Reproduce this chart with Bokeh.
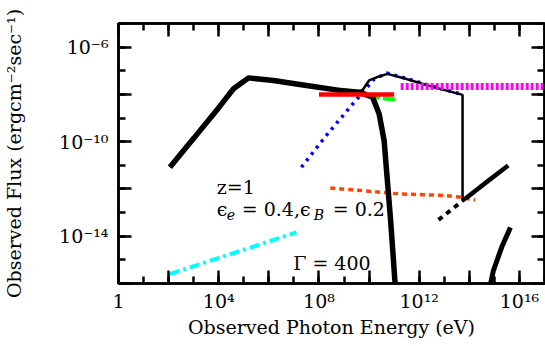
import numpy as np
from bokeh.plotting import figure
from bokeh.models import Range1d, FixedTicker, LogAxis, CustomJSTickFormatter, Label
from bokeh.embed import file_html
from bokeh.resources import INLINE

# ---- data (log10 of energy in eV, log10 of flux) ----
sync_logE = [2.05, 3.0, 4.0, 4.59, 5.19, 6.18, 7.50, 8.82, 9.61, 10.14, 10.40, 10.60, 10.73, 10.86, 11.03, 11.06]
sync_logF = [-11.08, -9.86, -8.56, -7.76, -7.30, -7.41, -7.62, -7.83, -7.91, -8.12, -8.82, -9.95, -11.65, -13.34, -15.89, -16.2]

ssc_logE = [9.58, 9.74, 10.0, 10.40, 10.73, 11.46, 12.51, 13.73, 13.73]
ssc_logF = [-7.88, -7.81, -7.41, -7.24, -7.13, -7.34, -7.67, -8.02, -12.45]

ssc_model_logE = [7.30, 8.29, 9.35, 9.80, 10.20, 10.73, 11.46, 12.51, 13.60]
ssc_model_logF = [-11.08, -9.74, -8.40, -7.85, -7.35, -7.10, -7.32, -7.65, -7.97]

green_logE = [8.80, 9.60, 10.10, 10.60, 11.06]
green_logF = [-7.78, -7.92, -8.10, -8.17, -8.22]

red_logE = [8.0, 11.0]
red_logF = [-8.0, -8.0]

magenta_logE = [11.26, 17.0]
magenta_logF = [-7.67, -7.67]

cyan_logE = [2.05, 7.10]
cyan_logF = [-15.60, -13.84]

orange_logE = [8.45, 9.74, 11.19, 12.12, 13.04, 13.70, 14.23]
orange_logF = [-11.96, -12.07, -12.21, -12.24, -12.28, -12.36, -12.47]

ic_dash_logE = [12.77, 13.85]
ic_dash_logF = [-13.31, -12.40]
ic_solid_logE = [13.85, 14.7, 15.55]
ic_solid_logF = [-12.40, -11.70, -11.01]

hi_logE = [14.85, 14.96, 15.29, 15.64]
hi_logF = [-16.0, -15.46, -14.47, -13.63]

x_major = [0, 2, 4, 6, 8, 10, 12, 14, 16]
x_labelled = [0, 4, 8, 12, 16]
y_major = [-16, -14, -12, -10, -8, -6]
y_labelled = [-14, -10, -6]

FONT = "DejaVu Serif"


def p10(a):
    return [10.0 ** v for v in a]


p = figure(width=545, height=346, x_axis_type="log", y_axis_type="log",
           x_range=Range1d(1, 1e17), y_range=Range1d(1e-16, 1e-5),
           output_backend="svg", toolbar_location=None,
           min_border_left=114, min_border_right=1, min_border_top=23, min_border_bottom=63)
p.xgrid.visible = False
p.ygrid.visible = False
p.outline_line_color = "black"
p.outline_line_width = 2.5
p.background_fill_color = "white"
p.border_fill_color = "white"

JS = """
const e = Math.round(Math.log10(tick));
if (!keep.includes(e)) return "";
if (e == 0) return "1";
const s = {"-":"\u207b","0":"\u2070","1":"\u00b9","2":"\u00b2","3":"\u00b3","4":"\u2074","5":"\u2075","6":"\u2076","7":"\u2077","8":"\u2078","9":"\u2079"};
return "10" + String(e).split("").map(c => s[c]).join("");
"""
fmt_x = CustomJSTickFormatter(args=dict(keep=x_labelled), code=JS)
fmt_y = CustomJSTickFormatter(args=dict(keep=y_labelled), code=JS)
blank = CustomJSTickFormatter(code="return '';")

xt = FixedTicker(ticks=p10(x_major), minor_ticks=p10(list(range(0, 18))))
yt = FixedTicker(ticks=p10(y_major), minor_ticks=p10(list(range(-16, -4))))


def style(ax):
    ax.axis_line_width = 2.5
    ax.major_tick_line_width = 2.5
    ax.minor_tick_line_width = 2.5
    ax.major_tick_in = 13
    ax.major_tick_out = 0
    ax.minor_tick_in = 7
    ax.minor_tick_out = 0
    ax.major_label_text_font = FONT
    ax.major_label_text_font_size = "19px"
    ax.major_label_text_color = "black"
    ax.axis_label_text_font = FONT
    ax.axis_label_text_font_size = "19px"
    ax.axis_label_text_font_style = "normal"
    ax.axis_label_text_color = "black"


xa = p.xaxis[0]
xa.ticker = xt
xa.formatter = fmt_x
style(xa)
xa.major_label_standoff = 6
xa.axis_label = "Observed Photon Energy (eV)"
xa.axis_label_standoff = 1

ya = p.yaxis[0]
ya.ticker = yt
ya.formatter = fmt_y
style(ya)
ya.major_label_standoff = 10
ya.axis_label = "Observed Flux (ergcm\u207b\u00b2sec\u207b\u00b9)"
ya.axis_label_standoff = 31

top = LogAxis(ticker=xt, formatter=blank)
style(top)
right = LogAxis(ticker=yt, formatter=blank)
style(right)
for ax in (top, right):
    ax.major_label_standoff = 0
    ax.major_label_text_font_size = "0px"
p.add_layout(top, "above")
p.add_layout(right, "right")

# ---- curves ----
p.line(p10(cyan_logE), p10(cyan_logF), line_color="cyan", line_width=4, line_dash="10 4 3 4")
p.line(p10(orange_logE), p10(orange_logF), line_color="orangered", line_width=3.5, line_dash="5 4")
p.line(p10(green_logE), p10(green_logF), line_color="lime", line_width=4, line_dash="12 3")
p.line(p10(ssc_model_logE), p10(ssc_model_logF), line_color="blue", line_width=3.5, line_dash="3 5")
p.line(p10(sync_logE), p10(sync_logF), line_color="black", line_width=5.5)
p.line(p10(ssc_logE), p10(ssc_logF), line_color="black", line_width=2.5)
p.line(p10(red_logE), p10(red_logF), line_color="red", line_width=4.5)
p.line(p10(magenta_logE), p10(magenta_logF), line_color="magenta", line_width=7, line_dash="3 2")
p.line(p10(ic_dash_logE), p10(ic_dash_logF), line_color="black", line_width=4, line_dash="5 5")
p.line(p10(ic_solid_logE), p10(ic_solid_logF), line_color="black", line_width=4.5)
p.line(p10(hi_logE), p10(hi_logF), line_color="black", line_width=5)


# ---- annotations ----
def lab(x, y, t, xo=0, yo=0, size="19px", style="normal"):
    p.add_layout(Label(x=x, y=y, text=t, x_offset=xo, y_offset=yo, text_font=FONT,
                       text_font_size=size, text_font_style=style,
                       text_color="black", text_baseline="middle"))


tx = 10 ** 3.92
lab(tx, 10 ** -11.90, "z=1")
ly = 10 ** -12.83
lab(tx, ly, "\u03f5")
lab(tx, ly, "e", xo=10, yo=-6, size="14px", style="italic")
lab(tx, ly, "= 0.4,\u03f5", xo=25)
lab(tx, ly, "B", xo=97, yo=-6, size="14px", style="italic")
lab(tx, ly, "= 0.2", xo=116)
lab(10 ** 6.97, 10 ** -15.12, "\u0393 = 400")

open("out.html", "w").write(file_html(p, INLINE))
